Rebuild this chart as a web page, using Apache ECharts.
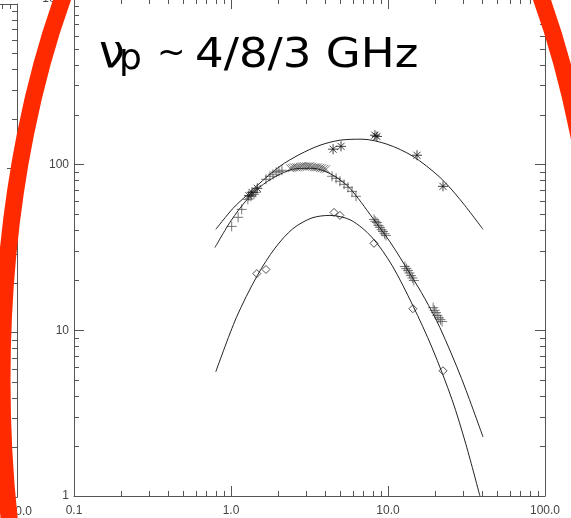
<!DOCTYPE html>
<html>
<head>
<meta charset="utf-8">
<script src="https://cdn.jsdelivr.net/npm/echarts@6/dist/echarts.min.js"></script>
<style>
html, body { margin: 0; padding: 0; background: #fff; }
#chart { width: 571px; height: 518px; }
</style>
</head>
<body>
<div id="chart"></div>
<script>
// values: x = frequency (GHz), y = flux
const xRange = [0.1, 100];
const yRange = [1, 1000];

// fitted spectra
const topFit = [[0.80, 40.7], [1.03, 54.5], [1.27, 65.8], [1.47, 75.0], [2.05, 97.8], [2.75, 115.6], [3.69, 131], [4.94, 140.5], [6.83, 142.5], [9.86, 132.9], [14.4, 112.4], [21.4, 83.9], [28.7, 61.8], [40.3, 40.7]];
const midFit = [[0.79, 31.6], [1.00, 45.9], [1.27, 61.8], [1.61, 76.2], [2.05, 87.5], [2.61, 94.7], [3.33, 95.1], [4.27, 88.3], [5.48, 75.0], [6.49, 62.2], [7.68, 50.1], [10.3, 34.2], [13.8, 22.0], [17.2, 15.5], [21.4, 10.4], [29.4, 5.12], [40.3, 2.27]];
const lowFit = [[0.80, 5.62], [1.08, 11.9], [1.47, 21.4], [1.91, 31.4], [2.48, 41.1], [3.28, 47.7], [4.27, 49.4], [5.81, 46.2], [7.91, 36.4], [10.6, 24.7], [14.4, 14.1], [19.1, 7.84], [25.6, 3.81], [31.4, 2.04], [38.5, 1.0]];

// measured points
const starPts = [[1.30, 65], [1.36, 68.1], [1.47, 72.0], [4.47, 124], [5.02, 129], [8.26, 150.6], [8.5, 148], [15.3, 114], [22.4, 74]];
const plusPts = [[1.01, 42.4], [1.11, 48.1], [1.17, 53.7], [1.28, 61.8], [1.34, 64.4], [1.40, 66.2], [1.44, 68.1], [1.67, 81.6], [1.77, 85.1], [1.85, 87.5], [1.94, 90.0], [2.02, 91.2], [2.11, 92.5],
    [4.40, 85.1], [4.67, 82.7], [4.94, 79.4], [5.25, 76.1], [5.56, 73.0], [5.90, 69.0], [6.25, 64.4],
    [8.15, 46.7], [8.3, 45.5], [8.51, 44.8], [8.7, 43.0], [8.89, 41.8], [9.1, 40.5], [9.29, 39.5], [9.5, 38.3], [9.71, 37.4],
    [12.8, 24.3], [13.1, 23.6], [13.4, 23.0], [13.7, 22.2], [14.0, 21.4], [14.3, 20.7], [14.6, 20.0],
    [19.4, 13.7], [19.8, 13.2], [20.2, 12.8], [20.6, 12.3], [21.1, 11.9], [21.6, 11.6], [22.1, 11.3]];
const crossPts = [[2.38, 95.1], [2.45, 95.7], [2.52, 96.4], [2.6, 96.4], [2.67, 96.4], [2.75, 97.0], [2.83, 97.8], [2.92, 97.8], [3.01, 97.8], [3.1, 97.8], [3.18, 97.8], [3.28, 97.0], [3.38, 96.4], [3.48, 96.4], [3.58, 96.4], [3.7, 95.7], [3.80, 95.1], [3.92, 94.5], [4.03, 93.8]];
const diamondPts = [[1.46, 22.0], [1.67, 23.3], [4.53, 51.5], [4.94, 49.4], [8.14, 33.5], [14.4, 13.5], [22.4, 5.7]];

const STAR = 'path://M5,0L5,10M0,5L10,5M1.5,1.5L8.5,8.5M8.5,1.5L1.5,8.5';
const PLUS = 'path://M5,0L5,10M0,5L10,5';
const CROSS = 'path://M0,0L10,10M10,0L0,10';

const axisColor = '#555';
const labelStyle = { color: '#444', fontSize: 12, fontFamily: 'Liberation Sans' };

function logX(gridIndex, position, showLabel) {
    return {
        type: 'log', logBase: 10, gridIndex: gridIndex, position: position,
        min: xRange[0], max: xRange[1],
        axisLine: { lineStyle: { color: axisColor, width: 1 } },
        axisTick: { inside: true, length: 10, lineStyle: { color: axisColor } },
        minorTick: { show: true, splitNumber: 9, length: 5, lineStyle: { color: axisColor } },
        axisLabel: Object.assign({ show: showLabel, margin: 9, formatter: function (v) { return v.toFixed(1); } }, labelStyle),
        splitLine: { show: false }
    };
}
function logY(gridIndex, position, showLabel) {
    return {
        type: 'log', logBase: 10, gridIndex: gridIndex, position: position,
        min: yRange[0], max: yRange[1],
        axisLine: { lineStyle: { color: axisColor, width: 1 } },
        axisTick: { inside: true, length: 10, lineStyle: { color: axisColor } },
        minorTick: { show: true, splitNumber: 9, length: 5, lineStyle: { color: axisColor } },
        axisLabel: Object.assign({ show: showLabel, margin: 5, formatter: function (v) { return String(v); } }, labelStyle),
        splitLine: { show: false }
    };
}

function fitLine(data) {
    return {
        type: 'line', xAxisIndex: 0, yAxisIndex: 0, data: data,
        smooth: 0.3, showSymbol: false, symbol: 'none',
        lineStyle: { color: '#222', width: 1 }
    };
}
function marks(data, symbol, size, color) {
    return {
        type: 'scatter', xAxisIndex: 0, yAxisIndex: 0, data: data,
        symbol: symbol, symbolSize: size,
        itemStyle: { color: 'rgba(0,0,0,0)', borderColor: color, borderWidth: 1 }
    };
}

const chart = echarts.init(document.getElementById('chart'));
chart.setOption({
    animation: false,
    backgroundColor: '#fff',
    grid: [
        { left: 74, top: -1, width: 471, height: 497, outerBoundsMode: 'none' },
        { left: -454, top: 4, width: 471, height: 493, outerBoundsMode: 'none' }
    ],
    xAxis: [logX(0, 'bottom', true), logX(0, 'top', false), logX(1, 'bottom', true), logX(1, 'top', false)],
    yAxis: [logY(0, 'left', true), logY(0, 'right', false), logY(1, 'left', false), logY(1, 'right', false)],
    series: [
        fitLine(topFit),
        fitLine(midFit),
        fitLine(lowFit),
        marks(plusPts, PLUS, 10, '#555'),
        marks(crossPts, CROSS, 8, '#555'),
        marks(starPts, STAR, 10, '#111'),
        marks(diamondPts, 'diamond', 8, '#222'),
        { type: 'line', xAxisIndex: 2, yAxisIndex: 2, data: [] }
    ],
    graphic: [
        { type: 'text', left: 99, top: 32, z: 50, style: { text: 'ν', font: '46px "DejaVu Sans"', fill: '#000' } },
        { type: 'text', left: 119, top: 42, z: 50, style: { text: 'p', font: '36px "DejaVu Sans"', fill: '#000' } },
        { type: 'text', left: 157, top: 37, z: 50, style: { text: '~', font: '34px "DejaVu Sans"', fill: '#000' } },
        { type: 'text', left: 195, top: 36, z: 50, scaleX: 1.1, style: { text: '4/8/3 GHz', font: '41px "DejaVu Sans"', fill: '#000' } },
        { type: 'ellipse', z: 100, silent: true, shape: { cx: 302, cy: 380, rx: 300, ry: 633 }, style: { fill: 'none', stroke: '#ff2a00', lineWidth: 17 } }
    ]
});
</script>
</body>
</html>
